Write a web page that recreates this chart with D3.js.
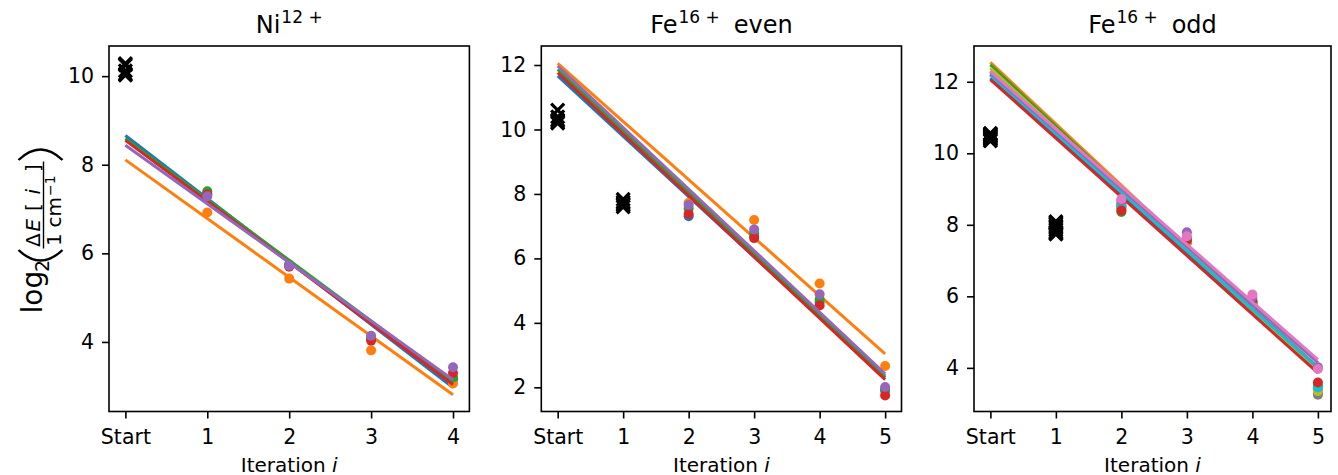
<!DOCTYPE html>
<html><head><meta charset="utf-8">
<script src="https://cdn.jsdelivr.net/npm/d3@7"></script>
<style>
body{margin:0;background:#fff}
text{font-family:"DejaVu Sans","Liberation Sans",sans-serif;fill:#000}
</style>
</head><body>
<svg id="chart" width="1338" height="475"></svg>
<script>
// ---------- data ----------
const seriesColors = ["#1f77b4","#ff7f0e","#2ca02c","#d62728","#9467bd","#8c564b","#e377c2","#7f7f7f","#bcbd22","#17becf"];

// Panel 1: Ni12+
const niXTickLabels = ["Start","1","2","3","4"];
const niYTicks = [4,6,8,10];
const niIterations = [1,2,3,4];
const niPoints = [
  [7.35,5.75,4.08,3.15],
  [6.92,5.43,3.81,3.06],
  [7.40,5.74,4.10,3.20],
  [7.33,5.70,4.03,3.30],
  [7.29,5.72,4.14,3.43]
];
const niFitStart = [8.66,8.11,8.59,8.55,8.44];
const niFitEnd   = [2.97,2.81,3.10,3.04,3.15];
const niCrossStart = [10.28,10.25,10.12,10.05,10.02];
const niCross1 = [];

// Panel 2: Fe16+ even
const feEvenXTickLabels = ["Start","1","2","3","4","5"];
const feEvenYTicks = [2,4,6,8,10,12];
const feEvenIterations = [2,3,4,5];
const feEvenPoints = [
  [7.31,6.70,4.65,1.90],
  [7.72,7.19,5.22,2.66],
  [7.55,6.78,4.72,1.95],
  [7.38,6.63,4.54,1.75],
  [7.66,6.90,4.89,2.01]
];
const feEvenFitStart = [11.66,12.05,11.86,11.76,11.97];
const feEvenFitEnd   = [2.30,3.04,2.35,2.24,2.42];
const feEvenCrossStart = [10.60,10.39,10.24,10.20,10.30];
const feEvenCross1 = [7.83,7.60,7.70,7.75,7.65];

// Panel 3: Fe16+ odd
const feOddXTickLabels = ["Start","1","2","3","4","5"];
const feOddYTicks = [4,6,8,10,12];
const feOddIterations = [2,3,4,5];
const feOddPoints = [
  [8.50,7.55,5.82,3.40],
  [8.48,7.52,5.78,3.42],
  [8.36,7.50,5.80,3.50],
  [8.40,7.57,5.89,3.59],
  [8.68,7.79,5.98,4.02],
  [8.55,7.60,5.85,3.30],
  [8.72,7.68,6.05,3.97],
  [8.60,7.62,5.83,3.25],
  [8.45,7.53,5.79,3.35],
  [8.52,7.58,5.84,3.45]
];
const feOddFitStart = [12.10,12.54,12.47,12.06,12.25,12.20,12.29,12.30,12.38,12.18];
const feOddFitEnd   = [3.95,3.95,3.90,3.86,4.15,3.98,4.23,4.02,3.92,4.00];
const feOddCrossStart = [10.35,10.40,10.43,10.46,10.48,10.50,10.52,10.54,10.56,10.38];
const feOddCross1 = [7.74,7.80,7.85,7.90,7.94,7.98,8.02,8.05,8.09,7.77];

// ---------- layout ----------
const svg = d3.select("#chart");
const TOP = 46, BOTTOM = 411.5;

const panels = [
  {title:[["Ni",0],["12 +",1]], left:109, right:469.4, xDomain:[-0.2,4.2], yDomain:[2.43,10.68],
   xLabels:niXTickLabels, yTicks:niYTicks, iters:niIterations, pts:niPoints,
   fs:niFitStart, fe:niFitEnd, c0:niCrossStart, c1:niCross1, order:[0,1,2,3,4]},
  {title:[["Fe",0],["16 +",1],["even",2]], left:541.3, right:901.5, xDomain:[-0.25,5.25], yDomain:[1.25,12.59],
   xLabels:feEvenXTickLabels, yTicks:feEvenYTicks, iters:feEvenIterations, pts:feEvenPoints,
   fs:feEvenFitStart, fe:feEvenFitEnd, c0:feEvenCrossStart, c1:feEvenCross1, order:[0,1,2,3,4]},
  {title:[["Fe",0],["16 +",1],["odd",2]], left:974, right:1331, xDomain:[-0.25,5.2], yDomain:[2.78,13.0],
   xLabels:feOddXTickLabels, yTicks:feOddYTicks, iters:feOddIterations, pts:feOddPoints,
   fs:feOddFitStart, fe:feOddFitEnd, c0:feOddCrossStart, c1:feOddCross1, order:[0,1,2,5,7,8,9,3,4,6]}
];

const crossPath = "M-6.5,-6.5L6.5,6.5M-6.5,6.5L6.5,-6.5";

panels.forEach((p, pi) => {
  const x = d3.scaleLinear().domain(p.xDomain).range([p.left, p.right]);
  const y = d3.scaleLinear().domain(p.yDomain).range([BOTTOM, TOP]);
  const g = svg.append("g");
  const clipId = "clip" + pi;
  svg.append("clipPath").attr("id", clipId).append("rect")
    .attr("x", p.left).attr("y", TOP).attr("width", p.right - p.left).attr("height", BOTTOM - TOP);
  const plot = g.append("g").attr("clip-path", `url(#${clipId})`);
  const lastIter = p.iters[p.iters.length - 1];
  const line = d3.line().x(d => x(d[0])).y(d => y(d[1]));

  // crosses (excluded points)
  p.c0.forEach(v => plot.append("path").attr("d", crossPath)
    .attr("transform", `translate(${x(0)},${y(v)})`)
    .attr("stroke", "#000").attr("stroke-width", 3.2).attr("fill", "none"));
  p.c1.forEach(v => plot.append("path").attr("d", crossPath)
    .attr("transform", `translate(${x(1)},${y(v)})`)
    .attr("stroke", "#000").attr("stroke-width", 3.2).attr("fill", "none"));

  p.order.forEach(si => {
    const vals = p.pts[si];
    const col = seriesColors[si % seriesColors.length];
    plot.append("path")
      .attr("d", line([[0, p.fs[si]], [lastIter, p.fe[si]]]))
      .attr("stroke", col).attr("stroke-width", 3).attr("fill", "none");
    plot.selectAll(null).data(vals).enter().append("circle")
      .attr("cx", (d, i) => x(p.iters[i])).attr("cy", d => y(d))
      .attr("r", 5).attr("fill", col);
  });

  // spines
  g.append("rect").attr("x", p.left).attr("y", TOP)
    .attr("width", p.right - p.left).attr("height", BOTTOM - TOP)
    .attr("fill", "none").attr("stroke", "#000").attr("stroke-width", 1.6);

  // x axis
  const xa = g.append("g").attr("transform", `translate(0,${BOTTOM})`)
    .call(d3.axisBottom(x).tickValues(d3.range(p.xLabels.length))
      .tickFormat((d, i) => p.xLabels[i]).tickSize(7).tickSizeOuter(0).tickPadding(7));
  xa.select(".domain").remove();
  xa.selectAll("line").attr("stroke-width", 1.6);
  xa.selectAll("text").attr("font-size", 20.5).attr("font-family", "DejaVu Sans")
    .attr("y", 14).attr("dy", "0.91em");

  // y axis
  const ya = g.append("g").attr("transform", `translate(${p.left},0)`)
    .call(d3.axisLeft(y).tickValues(p.yTicks).tickFormat(d3.format("d"))
      .tickSize(7).tickSizeOuter(0).tickPadding(8));
  ya.select(".domain").remove();
  ya.selectAll("line").attr("stroke-width", 1.6);
  ya.selectAll("text").attr("font-size", 20.5).attr("font-family", "DejaVu Sans");

  // title
  const cx = (p.left + p.right) / 2;
  const t = g.append("text").attr("x", cx).attr("y", 33)
    .attr("text-anchor", "middle").attr("font-size", 24);
  p.title.forEach(([s, kind]) => {
    if (kind === 0) t.append("tspan").text(s);
    else if (kind === 1) t.append("tspan").attr("font-size", 17).attr("dy", -10.5).attr("dx", 1).text(s);
    else t.append("tspan").attr("dy", 10.5).attr("dx", 14).text(s);
  });

  // x label
  const xl = g.append("text").attr("x", cx).attr("y", 471.5)
    .attr("text-anchor", "middle").attr("font-size", 20);
  xl.append("tspan").text("Iteration ");
  xl.append("tspan").attr("font-style", "italic").text("i");
});

// ---------- y label: log2( ΔE[i] / 1 cm^-1 ) ----------
const yl = svg.append("g").attr("transform", "rotate(-90)");
function put(txt, lx, ly, size, italic) {
  const e = yl.append("text").attr("x", lx).attr("y", ly).attr("font-size", size).text(txt);
  if (italic) e.attr("font-style", "italic");
  return e;
}
put("log", -313.5, 41.5, 28, false);
put("2", -272, 48.5, 19, false);
// numerator
put("\u0394", -247, 40, 20, false);
put("E", -231.5, 40, 20, true);
put("[", -211, 40, 20, false);
put("i", -194.5, 40, 20, true);
put("]", -172, 40, 20, false);
// fraction bar
svg.append("line").attr("x1", 43.5).attr("x2", 43.5).attr("y1", 161.5).attr("y2", 248.5)
  .attr("stroke", "#000").attr("stroke-width", 1.4);
// denominator
put("1", -246, 61, 20, false);
put("cm", -227.5, 61, 20, false);
put("\u22121", -196, 55, 14, false);
// parentheses
svg.append("path").attr("d", "M18.5,250 Q40.5,271 62.5,250")
  .attr("fill", "none").attr("stroke", "#000").attr("stroke-width", 2.4);
svg.append("path").attr("d", "M18.5,160 Q40.5,139 62.5,160")
  .attr("fill", "none").attr("stroke", "#000").attr("stroke-width", 2.4);
</script>
</body></html>
